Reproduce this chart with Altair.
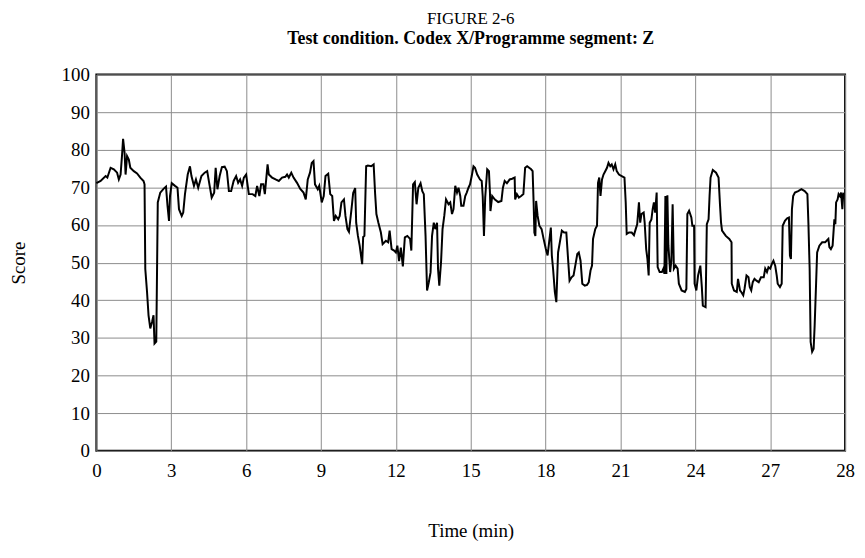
import altair as alt
import pandas as pd

# Time (min) and Score readings
time_min = [
    0.00, 0.17, 0.37, 0.44, 0.57, 0.70, 0.83, 0.90, 0.97, 1.03, 1.07, 1.13, 1.17, 1.23, 1.30, 1.36,
    1.50, 1.63, 1.76, 1.89, 1.93, 1.96, 2.03, 2.09, 2.16, 2.23, 2.29, 2.33, 2.40, 2.46, 2.56, 2.69,
    2.79, 2.85, 2.91, 2.95, 3.02, 3.15, 3.25, 3.31, 3.42, 3.48, 3.55, 3.66, 3.75, 3.81, 3.91, 3.99,
    4.08, 4.21, 4.34, 4.44, 4.54, 4.62, 4.72, 4.78, 4.85, 4.94, 5.03, 5.14, 5.23, 5.31, 5.40, 5.50,
    5.60, 5.68, 5.76, 5.84, 5.91, 6.00, 6.11, 6.26, 6.37, 6.44, 6.53, 6.60, 6.69, 6.75, 6.86,
    6.91, 7.04, 7.18, 7.31, 7.44, 7.57, 7.64, 7.71, 7.81, 7.90, 8.04, 8.17, 8.30, 8.39, 8.47, 8.56,
    8.63, 8.70, 8.76, 8.87, 8.93, 9.03, 9.11, 9.18, 9.29, 9.37, 9.45, 9.52, 9.59, 9.69, 9.75, 9.82,
    9.92, 9.98, 10.06, 10.12, 10.22, 10.29, 10.37, 10.41, 10.48, 10.55, 10.65, 10.69, 10.74, 10.81,
    10.88, 11.01, 11.11, 11.17, 11.22, 11.30, 11.40, 11.47, 11.60, 11.69, 11.75, 11.83, 11.93, 12.00,
    12.06, 12.13, 12.20, 12.28, 12.36, 12.46, 12.57, 12.62, 12.69, 12.76, 12.83, 12.90, 12.99, 13.06,
    13.12, 13.19, 13.25, 13.32, 13.39, 13.45, 13.52, 13.58, 13.65, 13.69, 13.74, 13.81, 13.87, 13.94,
    14.01, 14.11, 14.18, 14.25, 14.31, 14.38, 14.45, 14.51, 14.58, 14.62, 14.71, 14.78, 14.84, 14.91,
    14.97, 15.04, 15.11, 15.17, 15.26, 15.37, 15.44, 15.48, 15.53, 15.58, 15.66, 15.73, 15.77, 15.79,
    15.86, 15.96, 16.10, 16.23, 16.29, 16.36, 16.45, 16.56, 16.66, 16.76, 16.78, 16.85, 16.93, 17.02,
    17.11, 17.18, 17.26, 17.42, 17.48, 17.52, 17.55, 17.59, 17.62, 17.68, 17.75, 17.84, 17.92, 18.01,
    18.08, 18.14, 18.21, 18.25, 18.30, 18.37, 18.43, 18.50, 18.57, 18.65, 18.74, 18.83, 18.90, 18.96,
    19.04, 19.12, 19.20, 19.27, 19.33, 19.40, 19.47, 19.57, 19.66, 19.73, 19.80, 19.86, 19.90, 19.99,
    20.06, 20.10, 20.15, 20.20, 20.26, 20.32, 20.39, 20.46, 20.52, 20.59, 20.65, 20.72, 20.79, 20.85,
    20.94, 21.05, 21.16, 21.21, 21.25,
    21.34, 21.45, 21.54, 21.61, 21.67, 21.74, 21.79, 21.84, 21.93, 21.97, 22.03, 22.08, 22.13, 22.17,
    22.24, 22.29, 22.34, 22.39, 22.45, 22.49, 22.57, 22.66, 22.72, 22.76, 22.80, 22.84, 22.88, 22.92,
    22.99, 23.04, 23.09, 23.14, 23.21, 23.29, 23.34, 23.45, 23.58, 23.64, 23.68, 23.75, 23.84, 23.88,
    23.95, 23.97, 24.04, 24.11, 24.20, 24.26, 24.30, 24.41, 24.46, 24.53, 24.57, 24.61, 24.70, 24.83,
    24.93, 24.99, 25.03, 25.07, 25.22, 25.36, 25.45, 25.46, 25.55, 25.66, 25.71, 25.79, 25.84, 25.92,
    25.97, 26.05, 26.13, 26.18, 26.24, 26.30, 26.37, 26.45, 26.54, 26.63, 26.74, 26.80, 26.87, 26.93,
    27.00, 27.07, 27.13, 27.20, 27.26, 27.30, 27.39, 27.46, 27.50, 27.59, 27.68, 27.75, 27.79, 27.83,
    27.87, 27.92, 27.99, 28.12, 28.25, 28.38, 28.49, 28.53, 28.58, 28.62, 28.68, 28.74, 28.78, 28.84,
    28.88, 28.97, 29.08, 29.20, 29.26, 29.33, 29.37, 29.43, 29.50, 29.57, 29.61, 29.64, 29.70, 29.74,
    29.79, 29.84, 29.89, 29.93,
]

score = [
    71.1, 71.7, 73.0, 72.6, 75.2, 74.8, 73.9, 72.1, 73.4, 78.7, 82.9, 79.2, 73.4, 78.3, 77.4, 75.2,
    74.3, 73.7, 72.6, 71.7, 70.8, 48.3, 42.2, 36.0, 32.5, 34.2, 36.0, 28.5, 29.0, 66.0, 68.6, 69.6,
    70.2, 65.1, 61.1, 67.7, 71.1, 70.4, 69.9, 64.2, 62.4, 63.3, 68.2, 73.4, 75.6, 73.0, 70.4, 72.1,
    69.9, 73.0, 73.9, 74.3, 70.4, 67.3, 68.6, 75.2, 69.5, 73.0, 75.4, 75.5, 74.3, 69.0, 69.0, 71.7,
    73.0, 71.2, 72.1, 70.4, 72.6, 73.4, 68.2, 68.2, 67.7, 70.4, 67.7, 70.8, 70.8, 68.2, 76.1,
    73.4, 72.6, 72.1, 71.7, 72.6, 72.8, 73.4, 72.6, 73.9, 72.6, 71.2, 69.6, 68.6, 66.8, 72.1, 73.9,
    76.5, 77.0, 70.8, 69.5, 70.4, 66.0, 67.7, 73.0, 73.6, 68.2, 67.7, 61.1, 62.4, 61.5, 62.4, 66.0,
    66.8, 62.4, 58.9, 58.2, 64.1, 68.5, 69.8, 60.6, 57.1, 54.5, 49.6, 56.8, 57.1, 75.6,
    75.8, 75.6, 76.1, 68.2, 62.9, 60.6, 58.0, 54.9, 55.8, 55.4, 58.5, 53.6, 53.2, 52.7,
    54.5, 50.4, 54.0, 49.0, 56.7, 57.1, 56.3, 53.2, 70.8, 71.4, 65.5, 69.9, 71.1, 69.0,
    68.2, 57.1, 42.6, 44.8, 47.4, 57.1, 60.6, 58.9, 60.6, 48.3, 43.9, 50.1, 58.9, 62.4,
    66.8, 65.5, 66.0, 62.9, 64.2, 70.4, 68.6, 69.9, 67.7, 65.1, 65.1, 67.7, 68.6, 69.9,
    70.8, 73.0, 75.6, 75.2, 73.4, 72.1, 71.7, 67.7, 57.1, 67.3, 74.8, 74.3, 68.6, 63.7,
    67.7, 66.8, 66.1, 66.4, 69.9, 71.7, 71.1, 72.1, 72.3, 72.6, 66.8, 68.2, 67.3, 67.7,
    68.2, 75.2, 75.6, 74.8, 74.3, 66.0, 58.0, 57.1, 66.4, 62.4, 59.8, 58.9, 56.3, 53.6,
    51.9, 55.4, 59.3, 51.9, 48.3, 42.2, 39.5, 52.7, 55.4, 58.5, 58.0, 58.0, 51.0, 45.2,
    46.1, 46.6, 49.6, 52.3, 52.7, 50.5, 44.4, 43.9, 44.1, 44.8, 47.9, 49.2, 56.3, 58.9,
    59.8, 71.2, 72.6, 67.7, 72.1, 73.4, 74.3, 75.2, 76.5, 75.6, 76.1, 74.8, 76.1, 74.3,
    73.4, 73.0, 72.6, 66.0, 57.6,
    58.0, 58.0, 57.3, 58.9, 60.2, 66.0, 60.6, 62.9, 63.3, 60.6, 53.6, 51.0, 46.6, 60.6,
    61.5, 64.2, 66.0, 63.3, 68.6, 48.8, 47.5, 47.5, 48.4, 47.0, 67.7, 47.0, 67.9, 54.5,
    47.5, 50.5, 65.5, 48.4, 49.2, 48.4, 44.4, 42.6, 42.2, 43.0, 62.9, 63.8, 62.0, 59.8,
    59.8, 44.4, 42.6, 46.6, 49.2, 43.5, 38.6, 38.2, 60.2, 61.5, 67.7, 72.6, 74.6, 73.9,
    72.6, 65.1, 60.6, 58.5, 57.1, 56.3, 55.4, 44.4, 42.6, 42.2, 45.7, 42.6, 42.2, 41.3,
    43.0, 46.6, 46.1, 43.5, 42.6, 44.8, 45.7, 45.2, 44.8, 46.1, 46.1, 48.4, 47.5, 48.8,
    48.4, 49.7, 50.5, 49.2, 46.6, 44.4, 43.5, 44.4, 59.8, 61.1, 61.8, 62.0, 51.9, 51.0,
    64.2, 67.7, 68.6, 69.0, 69.5, 69.0, 68.2, 60.6, 48.3, 28.9, 26.3, 27.1, 33.2, 44.8,
    52.7, 54.5, 55.4, 55.4, 55.8, 56.3, 54.1, 53.6, 54.5, 61.5, 60.2, 66.0, 66.8, 68.2,
    67.7, 68.6, 64.2, 68.6,
]

x_ticks = [0, 3, 6, 9, 12, 15, 18, 21, 24, 27, 30]
y_ticks = [0, 10, 20, 30, 40, 50, 60, 70, 80, 90, 100]

df = pd.DataFrame({"t": time_min, "score": score})

FONT = "Liberation Serif"

chart = (
    alt.Chart(df)
    .mark_line(color="black", strokeWidth=2)
    .encode(
        x=alt.X(
            "t:Q",
            scale=alt.Scale(domain=[0, 30], nice=False, zero=False),
            axis=alt.Axis(
                values=x_ticks,
                labelExpr="datum.value == 30 ? '28' : datum.label",
                title="Time (min)",
                grid=True,
                gridColor="#8c8c8c",
                gridWidth=1,
                domain=False,
                ticks=False,
                labelFont=FONT,
                labelFontSize=19,
                labelColor="black",
                labelPadding=11,
                titleFont=FONT,
                titleFontSize=19,
                titleFontWeight="normal",
                titleColor="black",
                titlePadding=41,
                labelFlush=False,
            ),
        ),
        y=alt.Y(
            "score:Q",
            scale=alt.Scale(domain=[0, 100], nice=False),
            axis=alt.Axis(
                values=y_ticks,
                title="Score",
                grid=True,
                gridColor="#8c8c8c",
                gridWidth=1,
                domain=False,
                ticks=False,
                labelFont=FONT,
                labelFontSize=19,
                labelColor="black",
                labelPadding=7,
                titleFont=FONT,
                titleFontSize=19,
                titleFontWeight="normal",
                titleColor="black",
                titlePadding=33,
            ),
        ),
    )
    .properties(
        width=754,
        height=379,
        autosize=alt.AutoSizeParams(type="none"),
        padding={"left": 89, "top": 65, "right": 12, "bottom": 100},
        title=alt.TitleParams(
            text="FIGURE 2-6",
            subtitle="Test condition. Codex X/Programme segment: Z",
            font=FONT,
            fontSize=17,
            fontWeight="normal",
            color="black",
            subtitleFont=FONT,
            subtitleFontSize=18,
            subtitleFontWeight="bold",
            subtitleColor="black",
            subtitlePadding=2,
            anchor="middle",
            offset=17,
        ),
    )
    .configure_view(stroke="black", strokeWidth=2)
)

chart.save("out.html", embed_options={"renderer": "svg", "actions": False})
